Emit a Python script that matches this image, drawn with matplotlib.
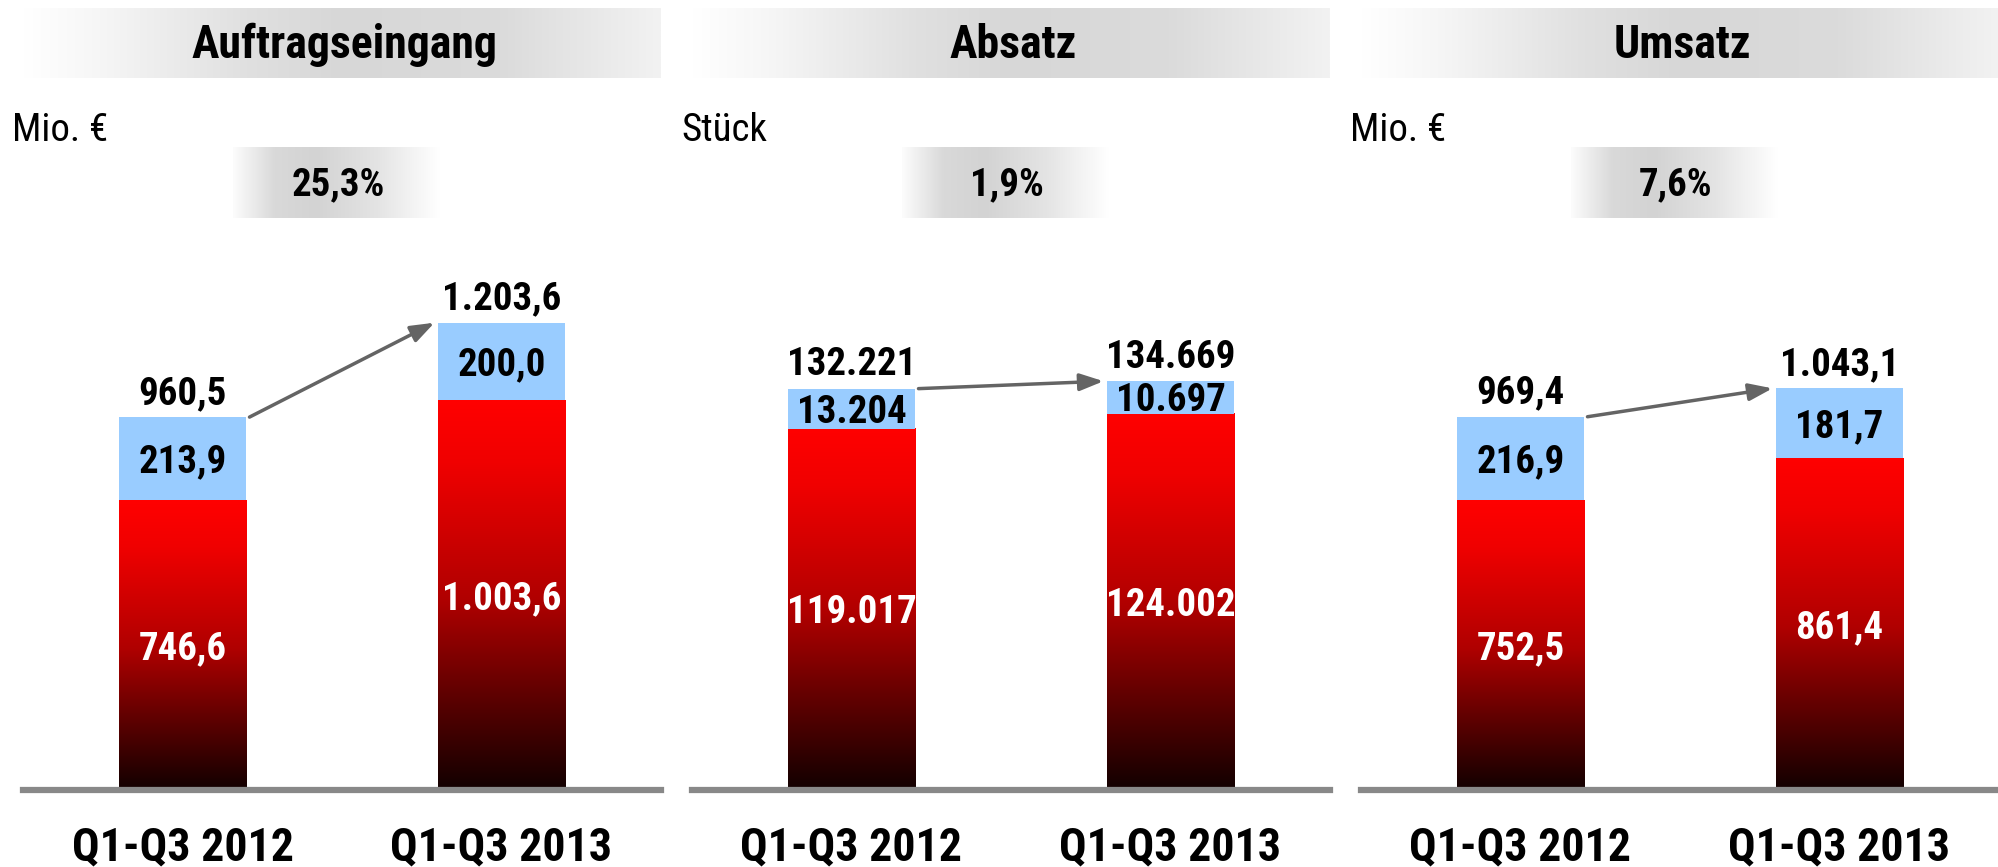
import numpy as np
import matplotlib
matplotlib.use("Agg")
import matplotlib.pyplot as plt
from matplotlib import font_manager
from matplotlib.colors import LinearSegmentedColormap

# ---- data -------------------------------------------------------------
periods = ["Q1-Q3 2012", "Q1-Q3 2013"]
panel_titles = ["Auftragseingang", "Absatz", "Umsatz"]
units = ["Mio. €", "Stück", "Mio. €"]
growth = ["25,3%", "1,9%", "7,6%"]

auftrag_base = [746.6, 1003.6]
auftrag_top = [213.9, 200.0]
auftrag_total = [960.5, 1203.6]

absatz_base = [119017, 124002]
absatz_top = [13204, 10697]
absatz_total = [132221, 134669]

umsatz_base = [752.5, 861.4]
umsatz_top = [216.9, 181.7]
umsatz_total = [969.4, 1043.1]

decimals = [1, 0, 1]

# ---- font: the original uses a narrow bold sans ------------------------
names = {f.name for f in font_manager.fontManager.ttflist}
narrow = ["Liberation Sans Narrow", "Arial Narrow", "Roboto Condensed",
          "Noto Sans Condensed", "Open Sans Condensed"]
FONT, SIZE_K, STRETCH = None, 1.0, "normal"
for n in narrow:
    if n in names:
        FONT = n
        break
if FONT is None:
    # maybe condensed faces are filed under the normal family name
    for f in font_manager.fontManager.ttflist:
        if f.name in ("Noto Sans", "Open Sans", "Roboto") and f.stretch in ("condensed", "semi-condensed") and f.weight in ("bold", 700):
            FONT, STRETCH = f.name, f.stretch
            break
if FONT is None:
    FONT, SIZE_K = "Liberation Sans", 0.8

plt.rcParams["font.family"] = [FONT, "DejaVu Sans"]
plt.rcParams["font.stretch"] = STRETCH

W, H = 1999, 867
BLUE = "#99CCFF"
GREY_LINE = "#888888"
ARROW = "#646464"
red_cmap = LinearSegmentedColormap.from_list(
    "redfade", [(0.0, "#120000"), (0.26, "#640000"), (0.49, "#b00000"),
                (0.84, "#f00000"), (1.0, "#ff0000")])
banner_cmap = LinearSegmentedColormap.from_list(
    "banner", [(0.0, "#ffffff"), (0.12, "#f6f6f6"), (0.35, "#e0e0e0"),
               (0.5, "#d7d7d7"), (0.75, "#dbdbdb"), (1.0, "#f2f2f2")])
box_cmap = LinearSegmentedColormap.from_list(
    "box", [(0.0, "#fcfcfc"), (0.2, "#d9d9d9"), (0.4, "#d3d3d3"),
            (0.7, "#e4e4e4"), (1.0, "#ffffff")])

FS_TITLE = 33 * SIZE_K
FS_UNIT = 28 * SIZE_K
FS_PCT = 28 * SIZE_K
FS_VAL = 28 * SIZE_K
FS_CAT = 33 * SIZE_K


def fmt(v, d):
    s = f"{v:,.{d}f}"
    return s.replace(",", "X").replace(".", ",").replace("X", ".")


def px(x, y):
    return x / W, 1 - y / H


PANEL_STEP = 669
PANEL_LEFT = 23
PANEL_W = 638
BAR_W = 0.4
ylims = [1803, 230600, 1818]

fig = plt.figure(figsize=(W / 100, H / 100), dpi=100)

# background layer for banners and growth boxes
bg = fig.add_axes([0, 0, 1, 1], zorder=-5)
bg.set_xlim(0, W)
bg.set_ylim(H, 0)
bg.axis("off")
ramp = np.linspace(0, 1, 256).reshape(1, -1)

panels = [
    (auftrag_base, auftrag_top, auftrag_total),
    (absatz_base, absatz_top, absatz_total),
    (umsatz_base, umsatz_top, umsatz_total),
]

for i, (base, top, total) in enumerate(panels):
    off = PANEL_STEP * i
    left = PANEL_LEFT + off

    # title banner
    bg.imshow(ramp, cmap=banner_cmap, aspect="auto",
              extent=[left, min(left + PANEL_W, W), 78, 8], interpolation="bilinear")
    fig.text(*px(344 + off, 58), panel_titles[i], ha="center", va="baseline",
             fontsize=FS_TITLE, fontweight="bold")

    # unit + growth box
    fig.text(*px(12 + off, 141), units[i], ha="left", va="baseline", fontsize=FS_UNIT)
    bg.imshow(ramp, cmap=box_cmap, aspect="auto",
              extent=[233 + off, 440 + off, 218, 147], interpolation="bilinear")
    fig.text(*px(338 + off, 195), growth[i], ha="center", va="baseline",
             fontsize=FS_PCT, fontweight="bold")

    # chart area
    ax = fig.add_axes([left / W, (H - 790) / H, PANEL_W / W, 700 / H])
    ax.patch.set_visible(False)
    x = np.arange(len(periods))
    red_bars = ax.bar(x, base, width=BAR_W, color="#ff0000", zorder=2)
    for b in red_bars:
        x0 = b.get_x()
        ax.imshow(np.linspace(1, 0, 256).reshape(-1, 1), cmap=red_cmap, aspect="auto",
                  extent=[x0, x0 + b.get_width(), 0, b.get_height()], zorder=3,
                  interpolation="bilinear")
    ax.bar(x, top, bottom=base, width=BAR_W, color=BLUE, zorder=3)

    ax.set_xlim(-0.5, 1.5)
    ax.set_ylim(0, ylims[i])
    for s in ["top", "left", "right"]:
        ax.spines[s].set_visible(False)
    ax.spines["bottom"].set_color(GREY_LINE)
    ax.spines["bottom"].set_linewidth(4.5)
    ax.spines["bottom"].set_zorder(5)
    ax.set_xticks([])
    ax.set_yticks([])

    for j in range(len(periods)):
        # value inside red segment
        ax.annotate(fmt(base[j], decimals[i]), (x[j], base[j] / 2), xytext=(0, -10 * SIZE_K),
                    textcoords="offset points", ha="center", va="baseline",
                    fontsize=FS_VAL, fontweight="bold", color="white", zorder=6)
        # value inside blue segment
        ax.annotate(fmt(top[j], decimals[i]), (x[j], base[j] + top[j] / 2), xytext=(0, -10 * SIZE_K),
                    textcoords="offset points", ha="center", va="baseline",
                    fontsize=FS_VAL, fontweight="bold", color="black", zorder=6)
        # total above bar
        ax.annotate(fmt(total[j], decimals[i]), (x[j], total[j]), xytext=(0, 9.5),
                    textcoords="offset points", ha="center", va="baseline",
                    fontsize=FS_VAL, fontweight="bold", color="black", zorder=6)
        # period label under the baseline
        ax.annotate(periods[j], (x[j], 0), xytext=(0, -51),
                    textcoords="offset points", ha="center", va="baseline",
                    fontsize=FS_CAT, fontweight="bold", annotation_clip=False)

    # growth arrow between the bars
    ax.annotate("", xy=(x[1] - BAR_W / 2 - 0.01, total[1]),
                xytext=(x[0] + BAR_W / 2 + 0.01, total[0]),
                arrowprops=dict(arrowstyle="-|>,head_length=0.55,head_width=0.2",
                                color=ARROW, lw=2.5, mutation_scale=26,
                                shrinkA=0, shrinkB=0),
                zorder=7)

fig.savefig("out.png", dpi=100)
